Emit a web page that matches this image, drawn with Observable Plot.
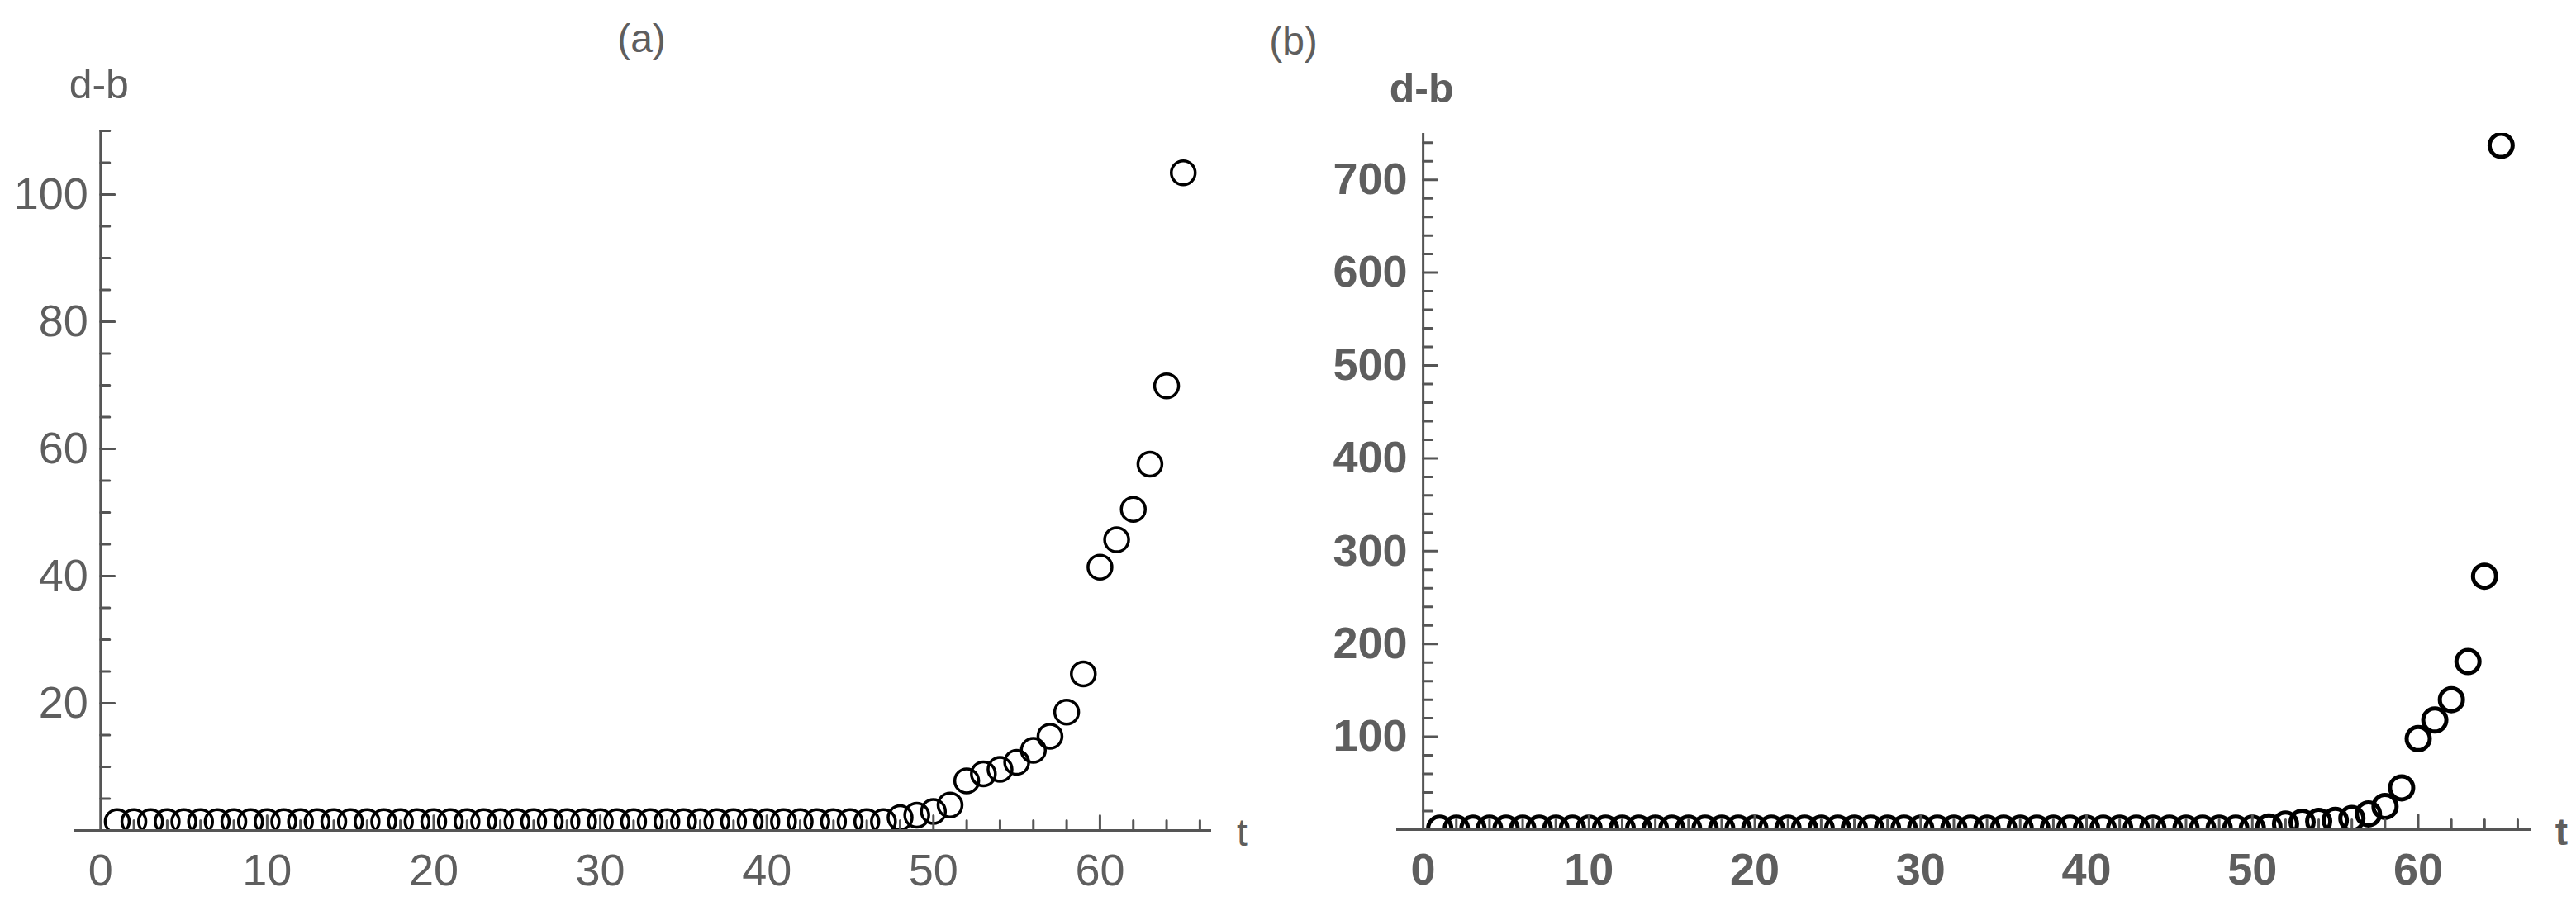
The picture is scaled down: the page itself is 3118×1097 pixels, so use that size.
<!DOCTYPE html>
<html>
<head>
<meta charset="utf-8">
<script src="https://cdn.jsdelivr.net/npm/d3@7"></script>
<script src="https://cdn.jsdelivr.net/npm/@observablehq/plot@0.6"></script>
<style>
  html, body { margin: 0; padding: 0; background: #fff; }
  #wrap { display: flex; width: 3118px; height: 1097px; overflow: hidden; background: #fff; }
  #wrap svg { display: block; }
</style>
</head>
<body>
<div id="wrap"></div>
<script>
// ---- data ----
const tA = [1,2,3,4,5,6,7,8,9,10,11,12,13,14,15,16,17,18,19,20,21,22,23,24,25,26,27,28,29,30,31,32,33,34,35,36,37,38,39,40,41,42,43,44,45,46,47,48,49,50,51,52,53,54,55,56,57,58,59,60,61,62,63,64,65];
const dbA = [1.4,1.4,1.4,1.4,1.4,1.4,1.4,1.4,1.4,1.4,1.4,1.4,1.4,1.4,1.4,1.4,1.4,1.4,1.4,1.4,1.4,1.4,1.4,1.4,1.4,1.4,1.4,1.4,1.4,1.4,1.4,1.4,1.4,1.4,1.4,1.4,1.4,1.4,1.4,1.4,1.4,1.4,1.4,1.4,1.4,1.4,1.4,
             2.0,2.4,3.0,4.0,7.8,8.9,9.6,10.7,12.6,14.8,18.6,24.6,41.4,45.7,50.5,57.6,69.9,103.4];
const tB = [1,2,3,4,5,6,7,8,9,10,11,12,13,14,15,16,17,18,19,20,21,22,23,24,25,26,27,28,29,30,31,32,33,34,35,36,37,38,39,40,41,42,43,44,45,46,47,48,49,50,51,52,53,54,55,56,57,58,59,60,61,62,63,64,65];
const dbB = [1.5,1.5,1.5,1.5,1.5,1.5,1.5,1.5,1.5,1.5,1.5,1.5,1.5,1.5,1.5,1.5,1.5,1.5,1.5,1.5,1.5,1.5,1.5,1.5,1.5,1.5,1.5,1.5,1.5,1.5,1.5,1.5,1.5,1.5,1.5,1.5,1.5,1.5,1.5,1.5,1.5,1.5,1.5,1.5,1.5,1.5,1.5,1.5,1.5,1.5,
             3,6,8,9,10,12,17,25,45,98,118,140,181,273,737];

const xTickLabels = [0,10,20,30,40,50,60];
const xMajorTicks = [10,20,30,40,50,60];
const xMinorTicks = [2,4,6,8,12,14,16,18,22,24,26,28,32,34,36,38,42,44,46,48,52,54,56,58,62,64,66];
const yTickLabelsA = [20,40,60,80,100];
const yMinorTicksA = [5,10,15,25,30,35,45,50,55,65,70,75,85,90,95,105,110];
const yTickLabelsB = [100,200,300,400,500,600,700];
const yMinorTicksB = [20,40,60,80,120,140,160,180,220,240,260,280,320,340,360,380,420,440,460,480,520,540,560,580,620,640,660,680,720,740];

const titleA = "(a)", titleB = "(b)", yLabel = "d-b", xLabel = "t";

// ---- helpers ----
const FONT = "Liberation Sans, Arial, Helvetica, sans-serif";
const AXIS = "#555";
const TEXT = "#5e5e5e";

function xTicks(values, len, sw) {
  return Plot.vector(values, {x: d => d, y: () => 0, length: len, rotate: 0, anchor: "start", r: 0, stroke: AXIS, strokeWidth: sw});
}
function yTicks(values, len, sw) {
  return Plot.vector(values, {x: () => 0, y: d => d, length: len, rotate: 90, anchor: "start", r: 0, stroke: AXIS, strokeWidth: sw});
}

function panel(cfg) {
  const data = cfg.t.map((t, i) => ({t, v: cfg.v[i]}));
  return Plot.plot({
    width: cfg.width, height: 1097,
    marginLeft: cfg.ml, marginRight: cfg.mr, marginTop: cfg.mt, marginBottom: cfg.mb,
    x: {domain: cfg.xDomain, axis: null},
    y: {domain: cfg.yDomain, axis: null},
    style: {fontFamily: FONT, background: "#fff"},
    marks: [
      Plot.dot(data, {x: "t", y: "v", r: cfg.r, stroke: "#000", strokeWidth: cfg.sw, fill: "none", clip: true}),
      Plot.ruleY([0], {stroke: AXIS, strokeWidth: 3}),
      Plot.ruleX([0], {stroke: AXIS, strokeWidth: 3}),
      xTicks(cfg.xMinor, 12, 3),
      xTicks(cfg.xMajor, 18, 3),
      yTicks(cfg.yMinor, 11, 3),
      yTicks(cfg.yMajor, 17, 3),
      // x tick labels
      Plot.text(cfg.xLabels, {x: d => d, y: () => 0, text: d => String(d), lineAnchor: "top", textAnchor: "middle", dy: 28, fontSize: 54, fontWeight: cfg.fw, fill: TEXT}),
      // y tick labels
      Plot.text(cfg.yLabels, {x: () => 0, y: d => d, text: d => String(d), lineAnchor: "middle", textAnchor: "end", dx: -cfg.yPad, fontSize: 54, fontWeight: cfg.fw, fill: TEXT}),
      Plot.text([yLabel], {x: () => 0, frameAnchor: "top", lineAnchor: "bottom", textAnchor: "middle", dx: -2, dy: cfg.ylabDy, fontSize: 50, fontWeight: cfg.fw, fill: TEXT}),
      Plot.text([xLabel], {frameAnchor: "bottom-right", lineAnchor: "bottom", textAnchor: "middle", dx: cfg.tDx, dy: 18, fontSize: 46, fontWeight: cfg.fw, fill: TEXT}),
      Plot.text([cfg.title], {frameAnchor: "top-left", lineAnchor: "bottom", textAnchor: "middle", dx: cfg.titleDx, dy: -96, fontSize: 48, fill: TEXT})
    ]
  });
}

const wrap = document.getElementById("wrap");

wrap.appendChild(panel({
  t: tA, v: dbA, width: 1515,
  ml: 89, mr: 49, mt: 158, mb: 92,
  xDomain: [-1.6, 66.7], yDomain: [0, 110],
  r: 14.5, sw: 3.5, fw: "normal",
  xMinor: xMinorTicks, xMajor: xMajorTicks, xLabels: xTickLabels,
  yMinor: yMinorTicksA, yMajor: yTickLabelsA, yLabels: yTickLabelsA,
  yPad: 15, ylabDy: -40, tDx: 37, title: titleA, titleDx: 776 - 89
}));

wrap.appendChild(panel({
  t: tB, v: dbB, width: 1603,
  ml: 175, mr: 55, mt: 161, mb: 93,
  xDomain: [-1.6, 66.8], yDomain: [0, 750],
  r: 14, sw: 5, fw: "bold",
  xMinor: xMinorTicks, xMajor: xMajorTicks, xLabels: xTickLabels,
  yMinor: yMinorTicksB, yMajor: yTickLabelsB, yLabels: yTickLabelsB,
  yPad: 19, ylabDy: -38, tDx: 37, title: titleB, titleDx: 50 - 175
}));
</script>
</body>
</html>
